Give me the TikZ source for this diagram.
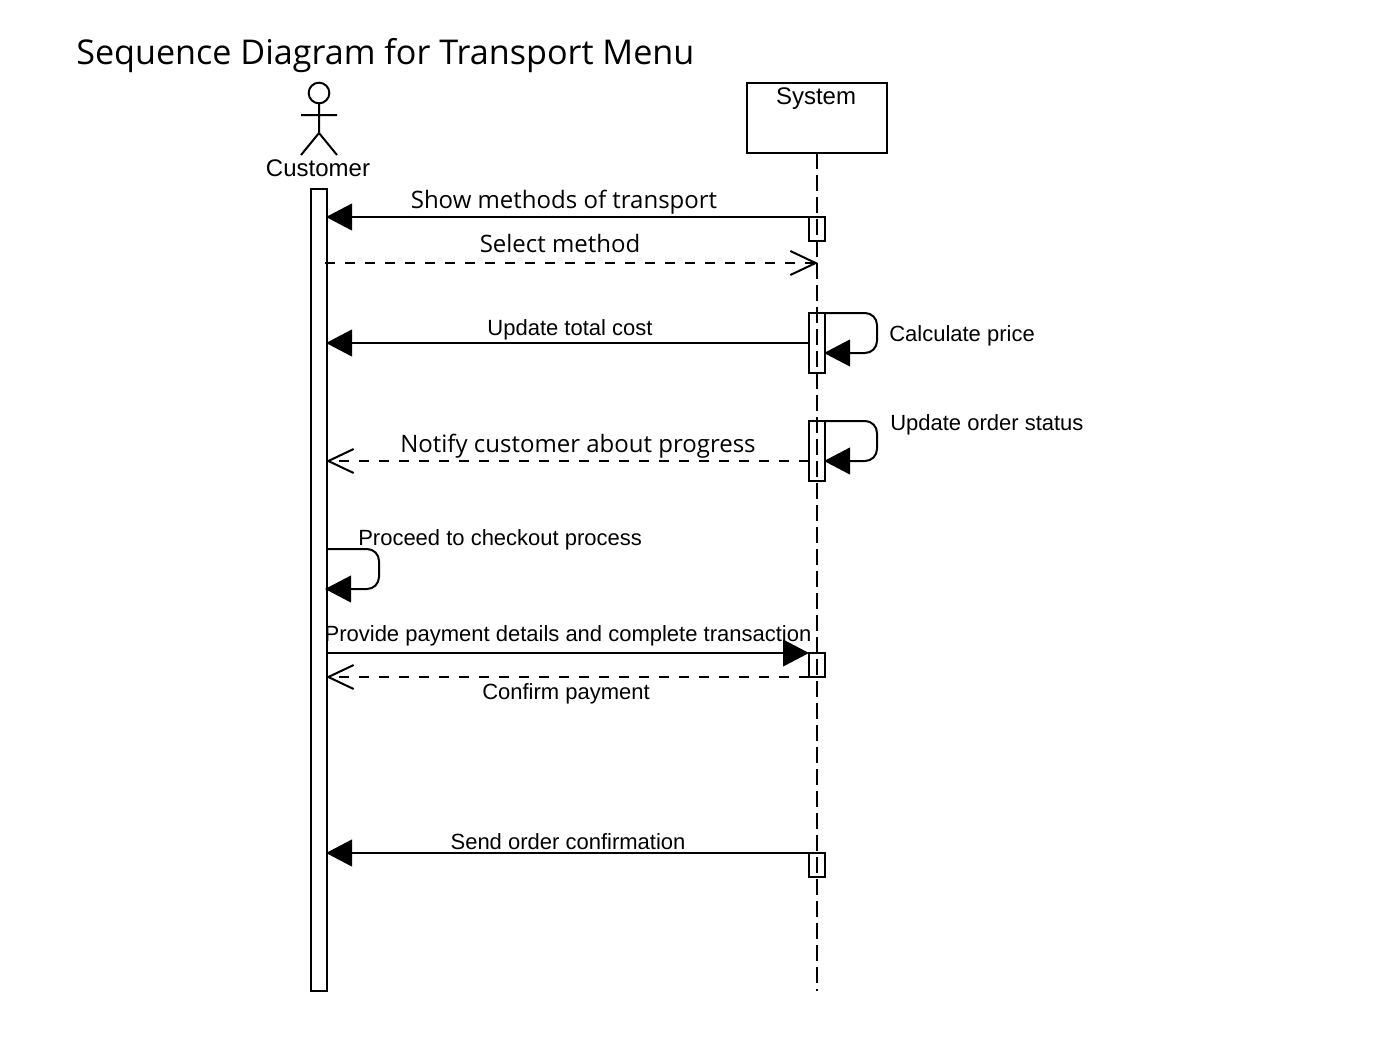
\documentclass[tikz,border=0pt]{standalone}
\usepackage{fontspec}
\setmainfont{Liberation Sans}
\newfontfamily\opensans{Open Sans}
\usetikzlibrary{arrows.meta}
\tikzset{
  x=0.75pt,y=-0.75pt,
  ln/.style={line width=1.5pt,draw=black,outer sep=0pt},
  bar/.style={ln,fill=white,rectangle,inner sep=0pt,minimum width=12pt,anchor=north},
  actv/.style={ln,rectangle,inner sep=0pt,minimum width=12pt,anchor=north},
  sync/.style={ln,shorten >=-0.75pt,-{Triangle[length=19.5pt,width=20pt,fill=black]}},
  reply/.style={ln,shorten >=-0.75pt,dash pattern=on 7.5pt off 7.5pt,-{Straight Barb[length=19pt,width=18pt,line width=1.5pt,sharp]}},
  slab/.style={font=\fontsize{16.5pt}{18pt}\selectfont,inner sep=0pt},
  olab/.style={font=\opensans\fontsize{18pt}{20pt}\selectfont,inner sep=0pt},
  lifel/.style={ln,dash pattern=on 12pt off 4.5pt},
}
\begin{document}
\begin{tikzpicture}
\useasboundingbox (0,0) rectangle (1377,1057);
\node[inner sep=0pt,anchor=west,font=\opensans\fontsize{25.6pt}{28pt}\selectfont] (title) at (76,56) {Sequence Diagram for Transport Menu};
% actor
\node[ln,circle,minimum size=15.5pt,inner sep=0pt] (head) at (319,93) {};
\coordinate (hip) at (319,133);
\coordinate (armL) at (301,115);
\coordinate (armR) at (337,115);
\coordinate (legL) at (301,155);
\coordinate (legR) at (337,155);
\draw[ln] (head.south) -- (hip) (armL) -- (armR) (legL) -- (hip) -- (legR);
\node[slab,font=\fontsize{18pt}{20pt}\selectfont] (custlabel) at (318,168) {Customer};
% system
\node[ln,rectangle,inner sep=0pt,minimum width=105pt,minimum height=52.5pt,anchor=north] (sys) at (817,83) {};
\node[slab,font=\fontsize{18pt}{20pt}\selectfont] (syslabel) at (816,99) {System};
\coordinate (sysend) at (817,991);
\draw[lifel] (sys.south) -- (sysend);
% customer activation
\node[bar,minimum height=601.5pt] (cust) at (319,189) {};
% system activations
\node[actv,minimum height=18pt] (a1) at (817,217) {};
\node[actv,minimum height=45pt] (a2) at (817,313) {};
\node[actv,minimum height=45pt] (a3) at (817,421) {};
\node[actv,minimum height=18pt] (a4) at (817,653) {};
\node[actv,minimum height=18pt] (a5) at (817,853) {};
% messages
\draw[sync] (a1.north west) -- (cust.east |- a1.north);
\node[olab] (l1) at (564,202) {Show methods of transport};
\coordinate (selS) at (325,263);
\coordinate (selE) at (817,263);
\draw[reply] (selS) -- (selE);
\node[olab] (l2) at (560,243) {Select method};
\coordinate (m3) at (809,343);
\draw[sync] (m3) -- (cust.east |- m3);
\node[slab] (l3) at (570,330) {Update total cost};
\draw[ln,sync,rounded corners=9pt] (a2.north east) -- ++(52,0) -- ++(0,40) -- ++(-52,0);
\node[slab,anchor=west] (l4) at (889,336) {Calculate price};
\coordinate (m5) at (809,461);
\draw[reply] (m5) -- (cust.east |- m5);
\node[olab] (l5) at (578,446) {Notify customer about progress};
\draw[ln,sync,rounded corners=9pt] (a3.north east) -- ++(52,0) -- ++(0,40) -- ++(-52,0);
\node[slab,anchor=west] (l6) at (890,425) {Update order status};
\coordinate (c1) at (326,549);
\draw[ln,sync,rounded corners=9pt] (c1) -- ++(53,0) -- ++(0,40) -- ++(-53,0);
\node[slab,anchor=west] (l7) at (358,540) {Proceed to checkout process};
\coordinate (c2) at (326,653);
\draw[sync,shorten >=0pt] (c2) -- (a4.north west);
\node[slab] (l8) at (568,636) {Provide payment details and complete transaction};
\draw[reply] (a4.south west) -- (cust.east |- a4.south);
\node[slab] (l9) at (566,694) {Confirm payment};
\draw[sync] (a5.north west) -- (cust.east |- a5.north);
\node[slab] (l10) at (568,842) {Send order confirmation};
\end{tikzpicture}
\end{document}
